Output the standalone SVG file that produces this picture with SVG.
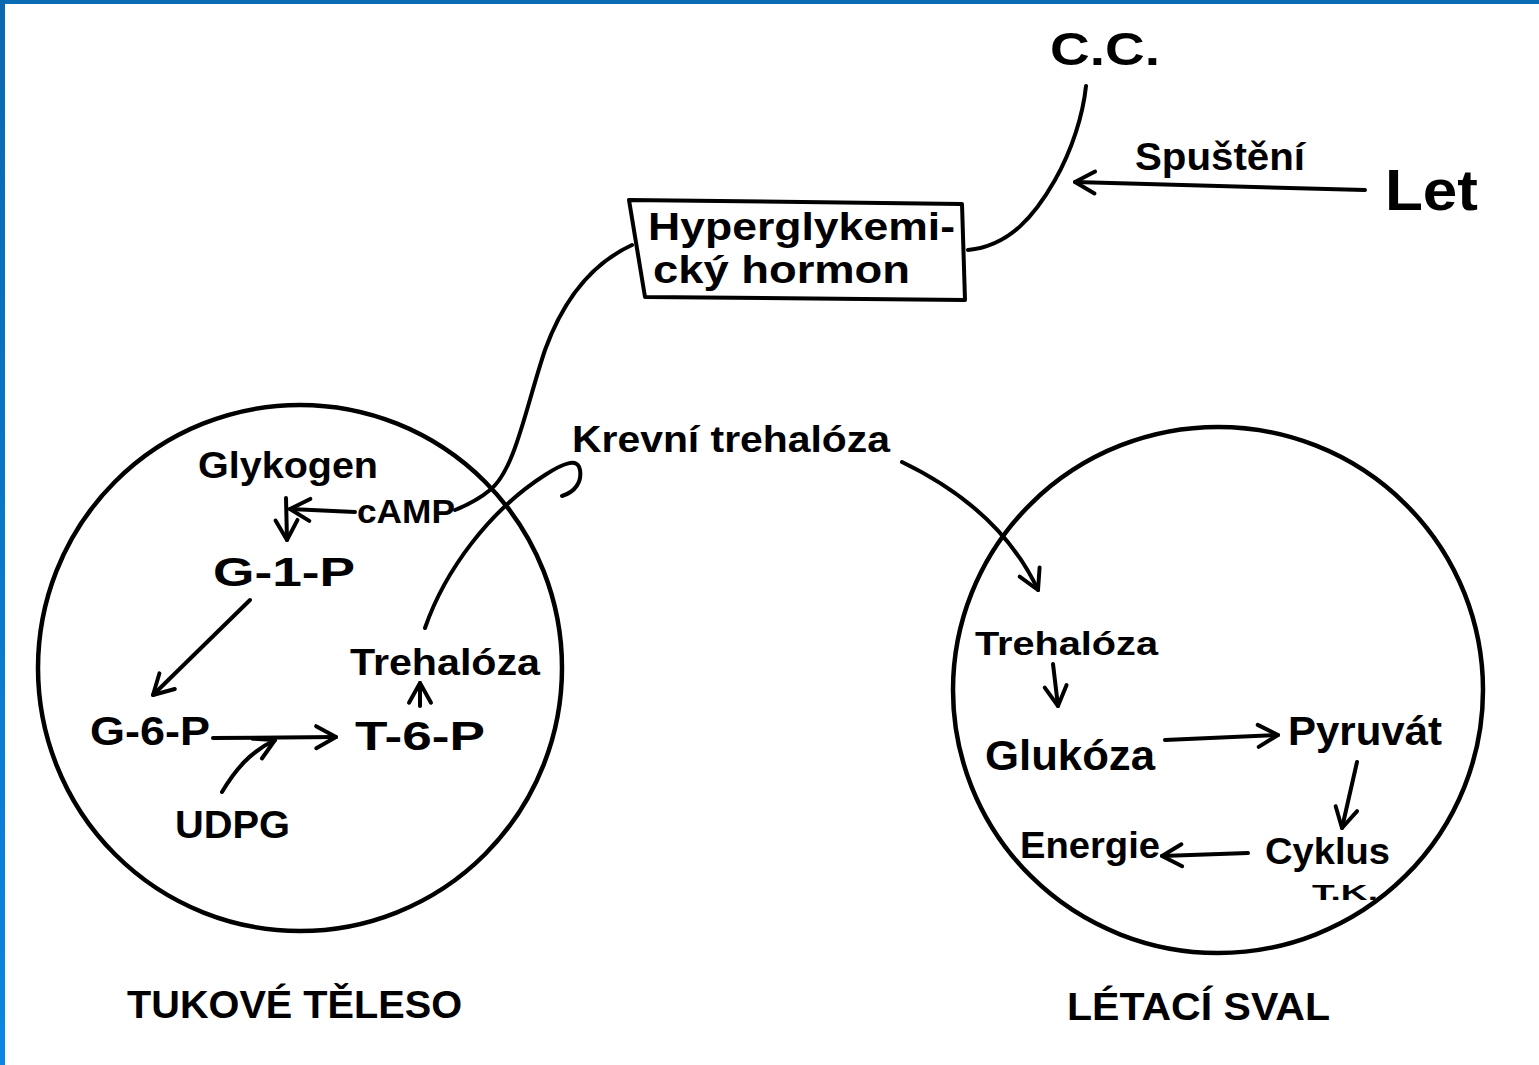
<svg xmlns="http://www.w3.org/2000/svg" width="1539" height="1065" viewBox="0 0 1539 1065">
<defs>
<linearGradient id="lb" x1="0" y1="0" x2="0" y2="1"><stop offset="0" stop-color="#0a68b0"/><stop offset="1" stop-color="#0a86e2"/></linearGradient>
<marker id="ah" viewBox="0 0 20 20" refX="18" refY="10" markerWidth="22" markerHeight="22" markerUnits="userSpaceOnUse" orient="auto" overflow="visible">
<path d="M0,0 L18,10 L0,20" fill="none" stroke="#000" stroke-width="3.6" stroke-linecap="round" stroke-linejoin="round"/>
</marker>
<style>
.t{font-family:"Liberation Sans","DejaVu Sans",sans-serif;fill:#000;font-weight:bold}
.ln{fill:none;stroke:#000;stroke-width:4;stroke-linecap:round;stroke-linejoin:round}
.cir{fill:none;stroke:#000;stroke-width:4.5}
</style>
</defs>
<rect width="1539" height="1065" fill="#fff"/>
<rect x="0" y="0" width="1539" height="4" fill="#0a6cb5"/>
<rect x="0" y="0" width="5" height="1065" fill="url(#lb)"/>

<g id="tukove-teleso">
<ellipse class="cir" cx="300" cy="668" rx="262" ry="263"/>
<text class="t" x="127" y="1018" font-size="38" textLength="335" lengthAdjust="spacingAndGlyphs">TUKOVÉ TĚLESO</text>
</g>
<g id="letaci-sval">
<ellipse class="cir" cx="1218" cy="690" rx="265" ry="263"/>
<text class="t" x="1067" y="1020" font-size="38" textLength="263" lengthAdjust="spacingAndGlyphs">LÉTACÍ SVAL</text>
</g>
<g id="hormon">
<path d="M629,200 L962,204 L965,300 L645,297 Z" fill="none" stroke="#000" stroke-width="4" stroke-linejoin="round"/>
<text class="t" x="648" y="240" font-size="38" textLength="307" lengthAdjust="spacingAndGlyphs">Hyperglykemi-</text>
<text class="t" x="653" y="283" font-size="38" textLength="257" lengthAdjust="spacingAndGlyphs">cký hormon</text>
</g>
<g id="cc"><text class="t" x="1050" y="65" font-size="46" textLength="110" lengthAdjust="spacingAndGlyphs">C.C.</text></g>
<g id="let"><text class="t" x="1385" y="210" font-size="58" textLength="93" lengthAdjust="spacingAndGlyphs">Let</text></g>
<g id="spusteni"><text class="t" x="1135" y="170" font-size="38" textLength="170" lengthAdjust="spacingAndGlyphs">Spuštění</text></g>
<g id="glykogen"><text class="t" x="198" y="478" font-size="36" textLength="180" lengthAdjust="spacingAndGlyphs">Glykogen</text></g>
<g id="camp"><text class="t" x="357" y="523" font-size="34" textLength="98" lengthAdjust="spacingAndGlyphs">cAMP</text></g>
<g id="g1p"><text class="t" x="213" y="586" font-size="40" textLength="142" lengthAdjust="spacingAndGlyphs">G-1-P</text></g>
<g id="g6p"><text class="t" x="90" y="745" font-size="40" textLength="120" lengthAdjust="spacingAndGlyphs">G-6-P</text></g>
<g id="t6p"><text class="t" x="355" y="750" font-size="40" textLength="130" lengthAdjust="spacingAndGlyphs">T-6-P</text></g>
<g id="udpg"><text class="t" x="175" y="838" font-size="38" textLength="115" lengthAdjust="spacingAndGlyphs">UDPG</text></g>
<g id="trehaloza-1"><text class="t" x="350" y="675" font-size="36" textLength="190" lengthAdjust="spacingAndGlyphs">Trehalóza</text></g>
<g id="krevni"><text class="t" x="572" y="452" font-size="36" textLength="318" lengthAdjust="spacingAndGlyphs">Krevní trehalóza</text></g>
<g id="trehaloza-2"><text class="t" x="975" y="655" font-size="34" textLength="183" lengthAdjust="spacingAndGlyphs">Trehalóza</text></g>
<g id="glukoza"><text class="t" x="985" y="770" font-size="42" textLength="170" lengthAdjust="spacingAndGlyphs">Glukóza</text></g>
<g id="pyruvat"><text class="t" x="1288" y="745" font-size="40" textLength="154" lengthAdjust="spacingAndGlyphs">Pyruvát</text></g>
<g id="energie"><text class="t" x="1020" y="858" font-size="36" textLength="140" lengthAdjust="spacingAndGlyphs">Energie</text></g>
<g id="cyklus">
<text class="t" x="1265" y="864" font-size="36" textLength="125" lengthAdjust="spacingAndGlyphs">Cyklus</text>
<text class="t" x="1312" y="900" font-size="22" textLength="66" lengthAdjust="spacingAndGlyphs">T.K.</text>
</g>

<g id="connectors">
<path class="ln" d="M968,250 C1010,246 1035,215 1055,180 C1072,150 1083,115 1086,86"/>
<path class="ln" marker-end="url(#ah)" d="M1365,190 L1075,182"/>
<path class="ln" d="M632,245 C595,262 565,295 545,350 C525,410 515,470 490,490 C478,500 465,506 455,510"/>
<path class="ln" marker-end="url(#ah)" d="M355,512 L290,509"/>
<path class="ln" marker-end="url(#ah)" d="M286,498 L287,540"/>
<path class="ln" marker-end="url(#ah)" d="M250,600 L153,695"/>
<path class="ln" marker-end="url(#ah)" d="M213,738 L336,737"/>
<path class="ln" marker-end="url(#ah)" d="M222,792 C235,770 250,752 275,740"/>
<path class="ln" marker-end="url(#ah)" d="M420,706 L420,683"/>
<path class="ln" d="M425,628 C445,570 490,510 545,475 C565,462 578,458 580,470 C582,482 575,492 562,496"/>
<path class="ln" marker-end="url(#ah)" d="M902,462 C960,490 1010,530 1038,590"/>
<path class="ln" marker-end="url(#ah)" d="M1053,664 L1058,706"/>
<path class="ln" marker-end="url(#ah)" d="M1165,740 L1278,735"/>
<path class="ln" marker-end="url(#ah)" d="M1357,762 L1342,828"/>
<path class="ln" marker-end="url(#ah)" d="M1248,853 L1162,856"/>
</g>
</svg>
